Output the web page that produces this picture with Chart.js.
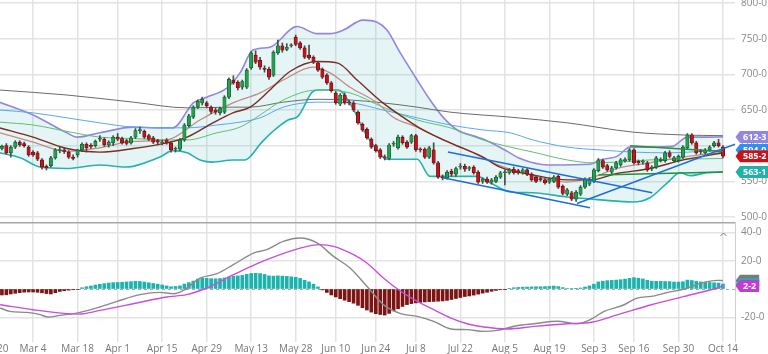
<!DOCTYPE html>
<html>
<head>
<meta charset="utf-8">
<script src="https://cdn.jsdelivr.net/npm/chart.js@4.4.1/dist/chart.umd.min.js"></script>
<style>
  html, body { margin: 0; padding: 0; background: #fff; }
  #wrap { position: relative; width: 768px; height: 354px; overflow: hidden; }
  #top { position: absolute; left: 0; top: 0; }
  #bot { position: absolute; left: 0; top: 222px; }
</style>
</head>
<body>
<div id="wrap">
  <canvas id="top" width="768" height="222"></canvas>
  <canvas id="bot" width="768" height="132"></canvas>
</div>
<script>
// trading-day index 0 = Feb 20
var tickIdx = [0, 9, 19, 28, 38, 48, 58, 68, 77, 86, 95, 105, 115, 125, 135, 144, 154, 164];
var tickLabels = ['Feb 20', 'Mar 4', 'Mar 18', 'Apr 1', 'Apr 15', 'Apr 29', 'May 13', 'May 28', 'Jun 10',
                  'Jun 24', 'Jul 8', 'Jul 22', 'Aug 5', 'Aug 19', 'Sep 3', 'Sep 16', 'Sep 30', 'Oct 14'];
var priceTicks = [500, 550, 600, 650, 700, 750, 800];
var macdTicks = [-20, 0, 20, 40];

var opens = [596,598,596,600,590,598,605,603,598,591,590,580,571,572,583,593,594,591,584,587,
             594,602,600,600,609,609,601,604,612,610,607,604,612,621,620,614,611,607,604,608,
             604,595,595,608,628,640,654,660,660,654,650,646,647,668,692,689,682,682,709,727,
             720,708,707,699,730,740,735,740,752,744,737,727,724,716,707,699,688,674,658,671,
             661,660,647,630,623,609,600,594,584,582,602,597,612,605,605,614,595,595,584,594,
             576,556,555,564,560,570,571,568,570,563,550,553,549,550,556,562,562,567,565,562,
             566,560,556,554,552,549,550,557,543,532,534,525,532,542,546,550,565,579,572,563,
             569,573,579,580,594,578,577,576,568,570,579,579,590,579,579,584,597,615,604,593,
             590,594,600,604,598];
var highs = [600,601,601,603,600,607,607,605,600,593,592,582,573,585,596,598,597,593,587,595,
             604,604,603,608,614,611,607,614,617,612,609,613,624,626,622,616,613,609,608,610,
             606,598,610,631,644,656,664,668,662,656,653,654,670,695,698,691,692,708,732,733,
             724,712,710,733,748,744,743,743,755,746,740,741,726,718,709,701,690,676,673,674,
             664,662,649,632,625,611,602,596,587,603,606,615,614,607,616,616,597,597,599,604,
             578,559,565,567,570,575,574,571,572,565,555,556,554,558,564,566,568,570,567,568,
             568,562,558,556,554,555,558,559,545,540,536,537,544,555,555,568,582,581,574,571,
             578,582,583,596,596,580,580,578,572,585,583,592,593,585,587,600,617,617,606,595,
             596,600,606,609,600];
var lows = [593,594,594,588,584,596,599,598,585,585,579,567,566,570,581,590,589,582,580,584,
            592,591,596,598,606,599,598,600,607,602,601,602,610,617,610,607,603,601,601,602,
            591,591,593,606,626,638,652,657,653,645,644,643,645,666,686,678,679,680,707,715,
            707,703,693,697,728,731,733,738,740,735,722,721,715,704,694,686,675,658,656,658,
            657,648,630,620,609,596,591,582,580,580,599,595,602,596,603,592,591,582,582,574,
            554,552,553,557,557,567,564,565,560,547,547,547,546,548,554,545,560,560,560,560,
            558,550,548,550,546,547,548,540,531,530,523,522,530,540,544,548,563,568,564,560,
            567,571,577,578,574,573,574,564,565,568,577,577,583,577,577,582,595,602,588,588,
            588,592,598,598,583];
var closes = [598,596,599,590,598,605,601,600,587,587,581,570,569,583,594,594,592,584,582,594,
              602,597,599,606,610,601,605,612,609,604,603,611,621,622,612,609,605,605,605,604,
              594,596,608,629,642,654,662,665,656,648,647,652,668,693,688,681,690,706,730,717,
              710,707,696,731,740,734,738,741,742,737,724,723,717,706,696,688,677,660,671,660,
              660,650,632,622,611,598,593,584,583,601,603,612,604,598,614,594,594,584,597,576,
              556,555,563,560,568,571,567,568,562,549,553,549,552,556,562,563,566,562,562,566,
              560,552,550,552,548,553,556,542,533,538,525,535,542,553,553,566,580,570,566,569,
              576,580,580,594,576,576,577,566,570,583,581,590,585,583,585,598,615,604,590,592,
              594,598,604,600,585.2];

// indicator lines: [trading-day index, value]
var bbUpper = [[1.5,661],[9,643],[16.6,618],[18.9,612],[24,618],[31.5,626],[37.5,625],[40.4,625],[45,660],
               [48,668],[52.6,681],[55.5,702],[58.4,734],[62.2,738],[68.3,767],[72.8,757],[75.7,757],
               [78.7,762],[83.1,776],[86.3,773],[88.5,762],[91.5,730],[95.3,692],[98.2,664],[101.1,640],
               [104.3,622],[108.8,612],[110.6,608],[115,594],[118.4,582],[124.7,573],[134.2,574],
               [136.4,580],[140.2,585],[143.1,598],[147.6,598],[152.6,599],[156,612],[160.4,612],[164,612.3]];
var bbLower = [[1.5,590],[6.1,583],[10.6,570],[16.6,568],[24,573],[29.7,570],[31.5,571],[37.5,584],
               [40.4,593],[43.6,590],[46.5,580],[49.4,577],[53.9,580],[56.6,580],[60.4,605],[62.7,619],
               [66.3,636],[68.5,641],[71.7,675],[73,678],[77.5,678],[80.7,654],[83.6,618],[86.3,594],
               [88.5,581],[95.3,581],[98.2,557],[108.8,557],[111.7,548],[116.2,535],[121.3,534],[129,528],
               [136.4,524],[143.8,521],[147.6,527],[151.5,548],[154.4,562],[156.6,558],[160.4,562],[164,563.1]];
var ema20 = [[1.5,625],[9,612],[16.6,596],[24,591],[31.5,596],[39.1,604],[43.6,612],[49.4,632],[53.9,646],
             [57.75,654],[62.2,678],[66.7,704],[72.8,718],[77.3,716],[81.8,692],[87.6,660],[92.1,640],
             [96.6,622],[102.7,604],[110.1,584],[113.9,570],[121.3,559],[129,552],[134.2,552],[140.2,561],
             [147.6,568],[155.1,580],[164,590]];
var sma20 = [[1.5,618],[9,605],[16.6,592],[24,597],[31.5,606],[39.1,608],[46.5,636],[53.9,660],[60,674],
             [65.2,692],[71.9,710],[75.7,702],[80.2,682],[86.3,660],[89.9,640],[95.3,626],[99.8,612],
             [106.5,594],[113.9,572],[121.3,558],[129,549],[134.8,556],[140.2,568],[147.6,576],[155.1,584],[164,591]];
var sma50 = [[1.5,633],[9,629],[16.6,620],[24,612],[31.5,610],[39.1,608],[43.6,608],[50.3,618],[55.5,626],
             [60,643],[65.2,664],[72.8,678],[80.2,674],[87.6,654],[95.3,636],[102.7,625],[110.1,608],
             [116.2,598],[121.3,591],[129,580],[134.8,576],[140.2,577],[147.6,580],[164,582]];
var sma100 = [[1.5,650],[9,646],[16.6,639],[24,632],[31.5,626],[39.1,625],[43.6,625],[50.3,629],[55.5,633],
              [60,639],[65.2,654],[72.8,661],[80.2,660],[87.6,650],[95.3,639],[102.7,629],[110.1,622],
              [116.2,618],[121.3,608],[129,598],[136.4,594],[143.8,591],[151.5,590],[164,594]];
var sma200 = [[1.5,678],[16.6,671],[31.5,661],[43.6,653],[53.9,654],[57.75,654],[65.2,661],[72.8,665],
              [80.2,664],[87.6,660],[95.3,654],[102.7,647],[116.2,640],[129,632],[143.8,619],[155.1,615],[164,614]];

// hand-drawn trend lines
var trendBlue = [
  [[102.2,591],[148.1,534]],
  [[101.1,555],[134.1,513]],
  [[131.2,519],[166.7,602]]
];
var trendGreen = [
  [[143.1,600],[164,592]],
  [[136,559],[164,563]]
];

// MACD panel
var macdHist = [-4.5,-4.5,-4.2,-4.1,-3.5,-3.0,-2.6,-2.2,-2.1,-2.1,-2.3,-2.7,-3.2,-3.5,-2.6,-1.7,-1.2,-0.8,-0.5,-0.3,
                0.9,1.6,2.1,2.8,3.3,3.8,4.2,4.5,4.6,4.8,5.0,5.2,5.4,5.3,4.9,4.4,3.9,3.4,2.8,2.2,
                1.6,1.8,2.2,3.5,4.5,5.6,7.0,7.8,7.6,7.3,7.2,7.4,7.8,8.4,9.1,9.3,9.6,10.4,11.0,11.1,
                10.9,10.3,9.3,9.1,9.3,9.1,8.9,8.6,8.3,7.5,6.2,5.0,3.4,1.5,-0.6,-2.4,-4.2,-5.6,-6.8,-7.9,
                -8.9,-10.0,-11.5,-13.2,-14.8,-16.3,-17.4,-18.0,-18.4,-17.2,-15.4,-13.9,-12.3,-11.0,-10.3,-9.8,-9.4,-9.1,-8.9,-8.8,
                -8.6,-8.4,-8.0,-7.4,-6.7,-6.0,-5.3,-4.9,-4.3,-3.6,-2.9,-2.3,-1.6,-1.0,-0.5,-0.2,0.5,0.9,1.1,1.3,
                1.4,1.5,1.6,1.6,1.7,1.8,2.1,1.7,1.0,0.4,0.4,0.5,0.7,1.4,2.2,3.4,5.0,5.5,5.9,6.1,
                6.3,6.6,7.0,7.5,8.0,7.6,7.1,6.1,5.5,5.4,5.4,5.3,5.2,4.9,4.9,5.1,6.3,6.0,5.5,5.0,
                4.8,4.6,4.4,4.2,3.5];
var macdLine = [[1.6,-13.4],[3.8,-15.8],[7.6,-16.5],[10.6,-18.1],[12.4,-19.8],[15,-18.6],[18.8,-17],[24,-12.7],
                [27.9,-8.7],[33,-4],[37.5,-2.4],[40.5,-3.3],[42.8,-1],[46.5,7.7],[50.3,10.8],[54,17.2],
                [58.5,25.4],[61.5,27.8],[65.2,33.6],[69,36],[72.8,32.5],[76.5,23],[80.2,14.8],[84,1.9],
                [87.7,-11],[91.6,-17.4],[95.3,-19.3],[99,-22.8],[102.9,-28.2],[106.5,-28.7],[110.3,-29.9],
                [113.3,-29.2],[117.7,-25.9],[121.6,-24.5],[126.8,-22.8],[131.2,-24.5],[134.4,-21.2],
                [137.3,-15.8],[141.8,-11.1],[144.7,-6.4],[147.9,-5.2],[151.6,-2.4],[155.3,0],[159.1,4.2],
                [162.7,6.1],[164,5.9]];
var signalLine = [[1.6,-11.1],[9,-14.6],[16.6,-17.4],[19.2,-17.7],[24,-15.1],[31.5,-10.4],[39,-5.6],[43.5,-4],
                  [48,0.7],[54,10.1],[61.5,20.7],[69,28.9],[73.5,31.3],[76.5,30.1],[81,24.2],[84,18.4],
                  [87.7,7.8],[91.6,-1.6],[95.3,-8.7],[99,-14.6],[102.9,-20.5],[106.5,-24.5],[110.3,-26.8],
                  [115.5,-28.2],[121.6,-26.4],[129.1,-24.5],[134.4,-23.5],[140.4,-18.1],[147.9,-11.1],
                  [155.3,-5.2],[162.7,0.7],[164,2.2]];

var X_MIN = 1.57, X_MAX = 166.7;
var GRID = '#e3e3e3';
var FONT = '"Open Sans", "DejaVu Sans", sans-serif';

function pts(arr) {
    return arr.map(function (p) { return { x: p[0], y: p[1] }; });
}
function fmt(v) {
    return v.toFixed(1).replace('.', '-');
}
function lineSet(arr, color, width, order) {
    return {
        type: 'line', data: pts(arr), borderColor: color, borderWidth: width,
        pointRadius: 0, cubicInterpolationMode: 'monotone', fill: false, order: order
    };
}
// keep chart.js from padding the plot for edge labels
function noPad(s) {
    s.paddingTop = 0; s.paddingBottom = 0; s.paddingLeft = 0; s.paddingRight = 0;
}

var tagPlugin = {
    id: 'tags',
    afterDraw: function (chart, args, opts) {
        var ctx = chart.ctx;
        var ys = chart.scales.y;
        var x0 = chart.chartArea.right;
        ctx.save();
        ctx.font = 'bold 9px ' + FONT;
        opts.items.forEach(function (t) {
            var py = ys.getPixelForValue(t.value);
            var txt = fmt(t.value);
            var w = ctx.measureText(txt).width + 6;
            var h = 12;
            ctx.fillStyle = t.color;
            ctx.beginPath();
            ctx.moveTo(x0 + 0.5, py);
            ctx.lineTo(x0 + 5, py - h / 2);
            ctx.lineTo(x0 + 5 + w, py - h / 2);
            ctx.lineTo(x0 + 5 + w, py + h / 2);
            ctx.lineTo(x0 + 5, py + h / 2);
            ctx.closePath();
            ctx.fill();
            ctx.fillStyle = '#fff';
            ctx.textAlign = 'center';
            ctx.textBaseline = 'middle';
            ctx.fillText(txt, x0 + 5 + w / 2, py + 0.5);
        });
        ctx.restore();
    }
};

var framePlugin = {
    id: 'frame',
    afterDraw: function (chart) {
        var ctx = chart.ctx, a = chart.chartArea;
        ctx.save();
        ctx.strokeStyle = '#a8a8a8';
        ctx.lineWidth = 1.5;
        ctx.beginPath();
        ctx.moveTo(0, 0.75);
        ctx.lineTo(a.right, 0.75);
        ctx.stroke();
        ctx.strokeStyle = '#cfcfcf';
        ctx.lineWidth = 1;
        ctx.beginPath();
        ctx.moveTo(a.right + 0.5, 0);
        ctx.lineTo(a.right + 0.5, a.bottom);
        ctx.stroke();
        // collapse caret
        ctx.strokeStyle = '#777';
        ctx.beginPath();
        ctx.moveTo(720.5, 14);
        ctx.lineTo(723.5, 11);
        ctx.lineTo(726.5, 14);
        ctx.stroke();
        ctx.restore();
    }
};

function xScale(showLabels) {
    return {
        type: 'linear', min: X_MIN, max: X_MAX, offset: false,
        afterBuildTicks: function (s) { s.ticks = tickIdx.map(function (v) { return { value: v }; }); },
        afterFit: function (s) { s.height = showLabels ? 12 : 0; noPad(s); },
        grid: { color: GRID, lineWidth: 1.5, drawTicks: false, offset: false },
        border: { display: false },
        ticks: {
            display: showLabels, autoSkip: false, maxRotation: 0, padding: 1,
            color: '#777', font: { family: FONT, size: 10 },
            callback: function (v) { var k = tickIdx.indexOf(v); return k >= 0 ? tickLabels[k] : ''; }
        }
    };
}

var upColor = '#22a153', upEdge = '#0f5a2b', downColor = '#c3141c', downEdge = '#6a0a0d';
var bodyFill = opens.map(function (o, i) { return closes[i] >= o ? upColor : downColor; });
var bodyEdge = opens.map(function (o, i) { return closes[i] >= o ? upEdge : downEdge; });

var topDatasets = [
    lineSet(bbLower, '#25b3ad', 1.6, 20),
    Object.assign(lineSet(bbUpper, '#9486dc', 1.6, 19), { fill: '-1', backgroundColor: 'rgba(40,175,170,0.12)' }),
    lineSet(sma200, '#6b6b6b', 1, 18),
    lineSet(sma100, '#58a8f0', 1, 17),
    lineSet(sma50, '#5cbf78', 1, 16),
    lineSet(sma20, '#c08b84', 1.2, 15),
    lineSet(ema20, '#7c2b22', 1.4, 14),
    {
        type: 'bar', data: opens.map(function (o, i) { return { x: i, y: [lows[i], highs[i]] }; }),
        backgroundColor: '#4a4a4a', barThickness: 1, grouped: false, order: 3
    },
    {
        type: 'bar', data: opens.map(function (o, i) { return { x: i, y: [o, closes[i]] }; }),
        backgroundColor: bodyFill, borderColor: bodyEdge, borderWidth: 0.7, borderSkipped: false,
        barThickness: 3.4, minBarLength: 1, grouped: false, order: 2
    }
];
trendBlue.forEach(function (t) {
    topDatasets.push({ type: 'line', data: pts(t), borderColor: '#1c6fd8', borderWidth: 1.5, pointRadius: 0, fill: false, order: 1 });
});
trendGreen.forEach(function (t) {
    topDatasets.push({ type: 'line', data: pts(t), borderColor: '#21913c', borderWidth: 1.5, pointRadius: 0, fill: false, order: 1 });
});

new Chart(document.getElementById('top'), {
    type: 'bar',
    data: { datasets: topDatasets },
    options: {
        responsive: false, animation: false, devicePixelRatio: 1,
        layout: { padding: 0 },
        plugins: {
            legend: { display: false }, tooltip: { enabled: false },
            tags: { items: [
                { value: sma100[sma100.length - 1][1], color: '#2f8fee' },
                { value: bbUpper[bbUpper.length - 1][1], color: '#9486dc' },
                { value: bbLower[bbLower.length - 1][1], color: '#1fb1ab' },
                { value: closes[closes.length - 1], color: '#c3141c' }
            ] }
        },
        scales: {
            x: xScale(false),
            y: {
                position: 'right', min: 493, max: 804.2,
                afterBuildTicks: function (s) { s.ticks = priceTicks.map(function (v) { return { value: v }; }); },
                afterFit: function (s) { s.width = 33; noPad(s); },
                grid: { color: GRID, lineWidth: 1.5, drawTicks: false },
                border: { display: false },
                ticks: { padding: 6, color: '#888', font: { family: FONT, size: 10 }, callback: fmt }
            }
        }
    },
    plugins: [tagPlugin]
});

new Chart(document.getElementById('bot'), {
    type: 'bar',
    data: {
        datasets: [
            {
                type: 'bar', data: macdHist.map(function (v, i) { return { x: i, y: v }; }),
                backgroundColor: macdHist.map(function (v) { return v >= 0 ? '#1db3ad' : '#7d1414'; }),
                barThickness: 3, order: 3
            },
            lineSet(macdLine, '#8a8a8a', 1.4, 2),
            lineSet(signalLine, '#c84fdc', 1.4, 1)
        ]
    },
    options: {
        responsive: false, animation: false, devicePixelRatio: 1,
        layout: { padding: 0 },
        plugins: {
            legend: { display: false }, tooltip: { enabled: false },
            tags: { items: [
                { value: macdLine[macdLine.length - 1][1], color: '#7a7a7a' },
                { value: macdHist[macdHist.length - 1], color: '#1db3ad' },
                { value: signalLine[signalLine.length - 1][1], color: '#c23bd4' }
            ] }
        },
        scales: {
            x: xScale(true),
            y: {
                position: 'right', min: -37.4, max: 47.3,
                afterBuildTicks: function (s) { s.ticks = macdTicks.map(function (v) { return { value: v }; }); },
                afterFit: function (s) { s.width = 33; noPad(s); },
                grid: { color: function (c) { return c.tick && c.tick.value === 0 ? '#aaa' : GRID; }, lineWidth: function (c) { return c.tick && c.tick.value === 0 ? 1 : 1.5; }, drawTicks: false },
                border: { display: false, dash: function (c) { return c.tick && c.tick.value === 0 ? [3, 3] : []; } },
                ticks: { padding: 6, color: '#888', font: { family: FONT, size: 10 },
                         callback: function (v) { return v === 0 ? '' : fmt(v); } }
            }
        }
    },
    plugins: [tagPlugin, framePlugin]
});
</script>
</body>
</html>
